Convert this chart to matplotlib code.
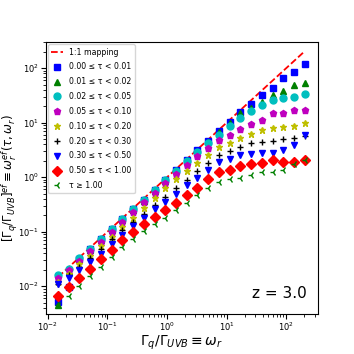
import numpy as np
import matplotlib
matplotlib.use('Agg')
import matplotlib.pyplot as plt

# Gamma_q / Gamma_UVB bin centres
omega_r = [0.0148, 0.0224, 0.0339, 0.0513, 0.0776, 0.117, 0.178, 0.269, 0.407, 0.617,
           0.933, 1.41, 2.14, 3.24, 4.90, 7.41, 11.2, 17.0, 25.7, 38.9, 58.9, 89.1, 135, 204]

# log10 of effective ratio, one list per tau bin
log_t000 = [-2.29, -2.02, -1.50, -1.31, -1.13, -0.95, -0.77, -0.59, -0.41, -0.23, -0.05, 0.13,
            0.31, 0.49, 0.66, 0.84, 1.015, 1.187, 1.334, 1.505, 1.628, 1.811, 1.921, 2.068]
log_t001 = [-2.35, -1.74, -1.51, -1.33, -1.15, -0.97, -0.79, -0.61, -0.43, -0.25, -0.07, 0.11,
            0.29, 0.47, 0.64, 0.82, 1.00, 1.169, 1.26, 1.382, 1.505, 1.583, 1.688, 1.730]
log_t002 = [-1.80, -1.68, -1.49, -1.31, -1.13, -0.95, -0.77, -0.59, -0.42, -0.24, -0.06, 0.12,
            0.29, 0.46, 0.62, 0.78, 0.93, 1.08, 1.22, 1.32, 1.41, 1.46, 1.47, 1.52]
log_t005 = [-1.85, -1.71, -1.54, -1.36, -1.18, -1.00, -0.82, -0.64, -0.46, -0.29, -0.11, 0.06,
            0.22, 0.38, 0.53, 0.68, 0.78, 0.88, 0.97, 1.05, 1.17, 1.18, 1.23, 1.23]
log_t010 = [-1.93, -1.77, -1.60, -1.44, -1.26, -1.09, -0.91, -0.74, -0.56, -0.38, -0.20, -0.04,
            0.11, 0.26, 0.40, 0.56, 0.63, 0.72, 0.80, 0.86, 0.91, 0.92, 0.94, 0.99]
log_t020 = [-1.95, -1.80, -1.64, -1.48, -1.31, -1.14, -0.97, -0.82, -0.67, -0.51, -0.36, -0.20,
            -0.05, 0.11, 0.26, 0.40, 0.48, 0.56, 0.63, 0.65, 0.67, 0.70, 0.71, 0.76]
log_t030 = [-1.96, -1.85, -1.71, -1.56, -1.40, -1.23, -1.06, -0.90, -0.74, -0.59, -0.45, -0.30,
            -0.15, -0.01, 0.13, 0.28, 0.34, 0.40, 0.42, 0.435, 0.435, 0.50, 0.59, 0.77]
log_t050 = [-2.18, -2.02, -1.85, -1.68, -1.50, -1.33, -1.15, -1.00, -0.86, -0.73, -0.61, -0.47,
            -0.33, -0.19, -0.04, 0.10, 0.13, 0.21, 0.25, 0.26, 0.31, 0.27, 0.27, 0.31]
log_t100 = [-2.35, -2.18, -2.00, -1.82, -1.64, -1.46, -1.28, -1.13, -0.99, -0.86, -0.74, -0.60,
            -0.47, -0.33, -0.19, -0.08, -0.04, -0.02, 0.04, 0.10, 0.10, 0.14, 0.25, 0.31]

labels = ['0.00 ≤ τ < 0.01', '0.01 ≤ τ < 0.02', '0.02 ≤ τ < 0.05',
          '0.05 ≤ τ < 0.10', '0.10 ≤ τ < 0.20', '0.20 ≤ τ < 0.30',
          '0.30 ≤ τ < 0.50', '0.50 ≤ τ < 1.00', 'τ ≥ 1.00']
series = [log_t000, log_t001, log_t002, log_t005, log_t010, log_t020, log_t030, log_t050, log_t100]
markers = ['s', '^', 'o', 'p', '*', '+', 'v', 'D', '3']
colors = ['b', 'g', 'c', 'm', 'y', 'k', 'b', 'r', 'g']

fig = plt.figure(figsize=(3.54, 3.54), dpi=100)
ax = fig.add_axes([0.13, 0.113, 0.768, 0.768])

x = np.array(omega_r)
ax.plot(x, x, 'r--', lw=1.3, label='1:1 mapping')
for ly, m, c, lab in zip(series, markers, colors, labels):
    ax.plot(x, 10**np.array(ly), ls='none', marker=m, color=c, ms=5, label=lab)

ax.set_xscale('log')
ax.set_yscale('log')
ax.set_xlim(0.0093, 340)
ax.set_ylim(0.0031, 300)
ax.tick_params(labelsize=6, pad=1.5)
ax.set_xlabel(r'$\Gamma_q/\Gamma_{UVB} \equiv \omega_r$', fontsize=10)
ax.set_ylabel(r'$[\Gamma_q/\Gamma_{UVB}]^{ef} \equiv \omega_r^{ef}(\tau,\omega_r)$', fontsize=8.5)
ax.xaxis.set_label_coords(0.5, -0.072)
ax.yaxis.set_label_coords(-0.098, 0.5)
ax.text(0.96, 0.06, 'z = 3.0', transform=ax.transAxes, ha='right', fontsize=11)
ax.legend(loc='upper left', fontsize=5.6, numpoints=1, handlelength=1.5,
          borderaxespad=0.3, labelspacing=0.75)

plt.savefig('out.png')
